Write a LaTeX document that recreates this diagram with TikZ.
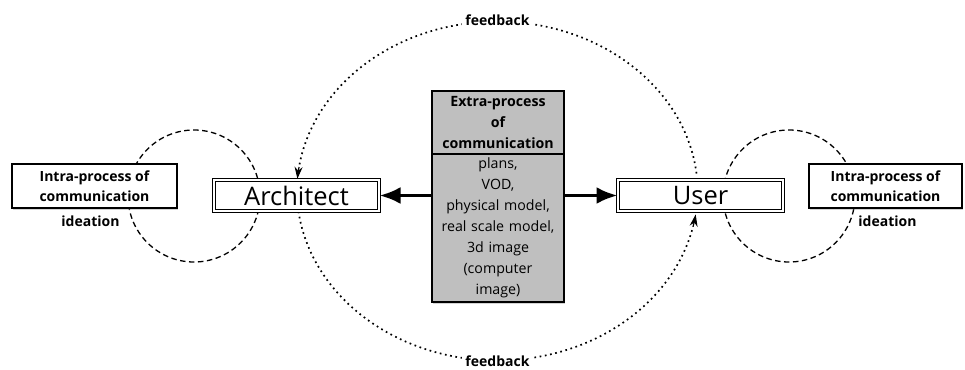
\documentclass[tikz,border=0pt]{standalone}
\usepackage{fontspec}
\setmainfont{Open Sans}
\usetikzlibrary{positioning,arrows.meta,shadows,backgrounds}

\tikzset{
  boxshadow/.style={drop shadow={shadow xshift=1.2pt,shadow yshift=-1.5pt,opacity=0.35}},
  intrabox/.style={draw, fill=white, line width=1.1pt, minimum height=44pt, inner sep=0pt,
    align=center, font=\fontsize{14}{20.5}\selectfont\bfseries, boxshadow},
  actor/.style={draw, double, double distance=2pt, line width=1pt, fill=white,
    minimum width=165pt, minimum height=31pt, font=\fontsize{25.5}{30}\selectfont, boxshadow},
  extrapart/.style={draw, fill=black!25, line width=1.1pt, outer sep=0pt, inner sep=2pt,
    text width=128pt, align=center, font=\fontsize{14.2}{21}\selectfont, boxshadow},
  idea/.style={font=\fontsize{14}{20}\selectfont\bfseries},
  bigarrow/.style={line width=3.5pt, -{Latex[length=21pt,width=17pt]}},
  loop/.style={line width=1.3pt, dash pattern=on 5.5pt off 3.5pt},
  feedback/.style={line width=1.7pt, dash pattern=on 1.7pt off 3.6pt},
  fbtip/.style={line width=1.2pt, -{Stealth[length=12pt,width=8pt]}},
  fblabel/.style={fill=white, inner sep=3pt, font=\fontsize{14}{20}\selectfont\bfseries}
}

\begin{document}
\begin{tikzpicture}[x=1pt,y=1pt]
  \useasboundingbox (0,0) rectangle (965,-369);

  \node[extrapart, minimum height=63pt, font=\fontsize{14.2}{21}\selectfont\bfseries] (head) at (498,-122.5)
    {Extra-process\\of\\communication};
  \node[extrapart, minimum height=148pt, below=0pt of head] (body)
    {plans,\\VOD,\\physical model,\\real scale model,\\3d image\\(computer\\image)};

  \node[actor] (arch) at (296.5,-195.5) {Architect};
  \node[actor] (user) at (700.5,-195.5) {User};

  \node[intrabox, minimum width=165pt] (intraL) at (94.5,-186) {Intra-process of\\communication};
  \node[intrabox, minimum width=153pt] (intraR) at (885.5,-186) {Intra-process of\\communication};
  \node[idea, below=4pt of intraL, xshift=-4pt] (ideaL) {ideation};
  \node[idea, below=4pt of intraR, xshift=2pt] (ideaR) {ideation};

  \begin{scope}[on background layer]
    \draw[loop] (194,-196) circle[radius=66pt];
    \draw[loop] (789,-196) circle[radius=66pt];
    \draw[feedback] ([xshift=-4pt,yshift=6pt]user.north)
      arc[start angle=6.4, end angle=171.4, x radius=200.5pt, y radius=171pt] coordinate (fbL);
    \draw[fbtip] (fbL)
      arc[start angle=171.4, end angle=175.4, x radius=200.5pt, y radius=171pt];
    \draw[feedback] ([xshift=2pt]arch.south)
      arc[start angle=187.4, end angle=347.6, x radius=200.5pt, y radius=171pt] coordinate (fbR);
    \draw[fbtip] (fbR)
      arc[start angle=347.6, end angle=351.6, x radius=200.5pt, y radius=171pt];
  \end{scope}

  \node[fblabel] (fbtop) at (497.5,-20) {feedback};
  \node[fblabel] (fbbot) at (497.5,-361) {feedback};

  \draw[bigarrow] (body.west |- arch) -- (arch.east);
  \draw[bigarrow] (body.east |- user) -- (user.west);
\end{tikzpicture}
\end{document}
